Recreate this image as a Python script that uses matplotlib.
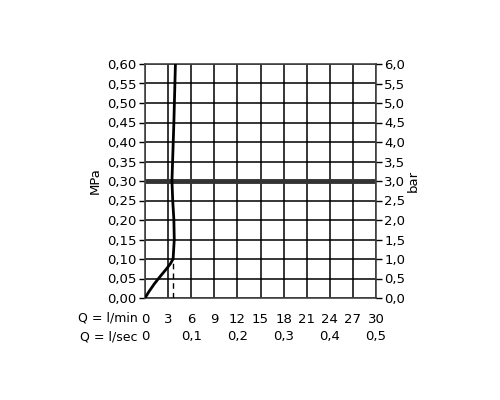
import matplotlib
matplotlib.use("Agg")
import matplotlib.pyplot as plt

# Data
flow_lmin = [0, 0.5, 1.2, 2.0, 2.8, 3.3, 3.65, 3.8, 3.75, 3.6, 3.5, 3.75, 3.95]
pressure_mpa = [0, 0.016, 0.036, 0.056, 0.075, 0.088, 0.10, 0.15, 0.20, 0.25, 0.30, 0.45, 0.60]
dashed_x = [3.6, 3.6]
dashed_y = [0, 0.10]
ref_pressure = 0.30
lmin_ticks = [0, 3, 6, 9, 12, 15, 18, 21, 24, 27, 30]
lsec_ticks = [0, 6, 12, 18, 24, 30]
lsec_labels = ["0", "0,1", "0,2", "0,3", "0,4", "0,5"]
mpa_ticks = [0, 0.05, 0.10, 0.15, 0.20, 0.25, 0.30, 0.35, 0.40, 0.45, 0.50, 0.55, 0.60]
mpa_labels = ["0,00", "0,05", "0,10", "0,15", "0,20", "0,25", "0,30", "0,35", "0,40", "0,45", "0,50", "0,55", "0,60"]
bar_labels = ["0,0", "0,5", "1,0", "1,5", "2,0", "2,5", "3,0", "3,5", "4,0", "4,5", "5,0", "5,5", "6,0"]

plt.rcParams['font.family'] = ['DejaVu Sans']
fig = plt.figure(figsize=(5, 4), dpi=100)
ax = fig.add_axes([0.29, 0.255, 0.462, 0.585])
ax.set_xlim(0, 30)
ax.set_ylim(0, 0.60)

for x in lmin_ticks:
    ax.axvline(x, color='black', lw=1.1, zorder=1)
for y in mpa_ticks:
    ax.axhline(y, color='black', lw=1.1, zorder=1)
for s in ax.spines.values():
    s.set_color('#444444')
    s.set_linewidth(1.2)

ax.axhline(ref_pressure, color='#333333', lw=3.5, zorder=2)
ax.plot(flow_lmin, pressure_mpa, color='black', lw=2.0, zorder=3)
ax.plot(dashed_x, dashed_y, color='black', lw=1.0, ls=(0, (4, 3)), zorder=3)

fs = 9.5
ax.set_xticks(lmin_ticks)
ax.set_xticklabels([str(v) for v in lmin_ticks], fontsize=fs)
ax.tick_params(axis='x', length=0, pad=11)
ax.set_yticks(mpa_ticks)
ax.set_yticklabels(mpa_labels, fontsize=fs)
ax.tick_params(axis='y', length=4, width=1, pad=2)
ax.set_ylabel("MPa", fontsize=fs, labelpad=4)

ax2 = ax.twinx()
ax2.set_ylim(0, 6.0)
ax2.set_yticks([v * 10 for v in mpa_ticks])
ax2.set_yticklabels(bar_labels, fontsize=fs)
ax2.tick_params(axis='y', length=4, width=1, pad=2)
ax2.set_ylabel("bar", fontsize=fs, labelpad=1, rotation=90)
for s in ax2.spines.values():
    s.set_visible(False)

ax3 = ax.secondary_xaxis(-0.125)
ax3.set_xticks(lsec_ticks)
ax3.set_xticklabels(lsec_labels, fontsize=fs)
ax3.tick_params(axis='x', length=0, pad=2)
ax3.spines['bottom'].set_visible(False)

fig.text(0.276, 1 - 318 / 400, "Q = l/min", ha='right', va='center', fontsize=9)
fig.text(0.276, 1 - 337 / 400, "Q = l/sec", ha='right', va='center', fontsize=9)

fig.savefig("out.png", dpi=100)
